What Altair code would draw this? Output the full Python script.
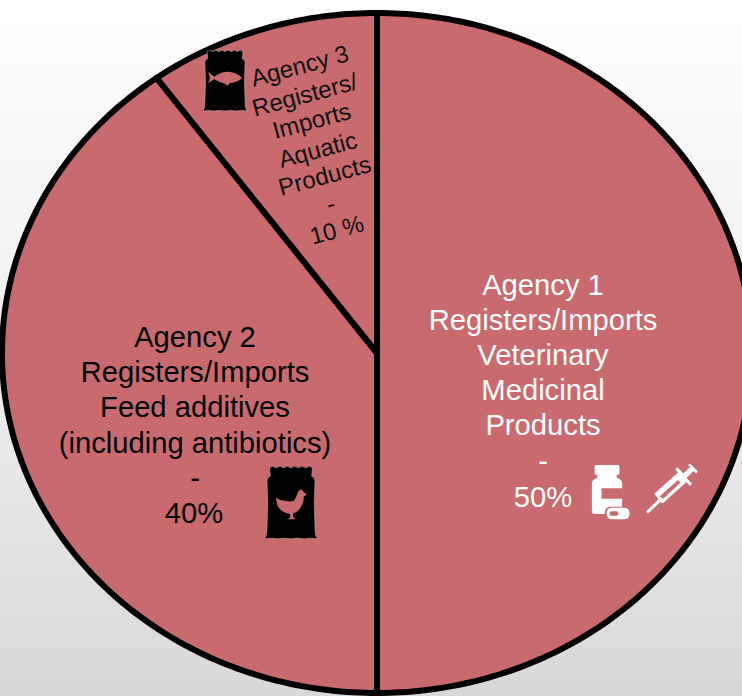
import altair as alt
import numpy as np
import pandas as pd

# Shares of registration by agency, clockwise from twelve o'clock
agencies = ["Agency 1", "Agency 2", "Agency 3"]
shares = [50, 40, 10]

label_lines = {
    "Agency 1": ["Agency 1", "Registers/Imports", "Veterinary", "Medicinal", "Products", "-", "50%"],
    "Agency 2": ["Agency 2", "Registers/Imports", "Feed additives", "(including antibiotics)", "-", "40%"],
    "Agency 3": ["Agency 3", "Registers/", "Imports", "Aquatic", "Products", "-", "10 %"],
}

# Layout and styling
W, H = 742, 696
CX, CY, RX, RY = 377, 353, 375, 340
PINK = "#c96a6f"
FONT = "Liberation Sans"

BAG = ("M-.58,-.95 Q-.5,-1.03 -.4,-.95 Q-.3,-1.03 -.2,-.95 Q-.1,-1.03 0,-.95 Q.1,-1.03 .2,-.95 "
       "Q.3,-1.03 .4,-.95 Q.5,-1.03 .58,-.95 L.56,-.72 Q.65,-.7 .65,-.6 L.63,0 L.65,.7 Q.65,.9 .72,.97 "
       "Q.54,.93 .36,.97 Q.18,.93 0,.97 Q-.18,.93 -.36,.97 Q-.54,.93 -.72,.97 Q-.65,.9 -.65,.7 L-.63,0 L-.65,-.6 "
       "Q-.65,-.7 -.56,-.72 Z")
HEN = ("M-.95,-.4 Q-.7,-.2 -.4,-.2 Q-.05,-.1 .2,-.2 Q.3,-.4 .38,-.6 Q.45,-.85 .62,-.9 Q.7,-.95 .75,-.8 "
       "L.98,-.6 L.8,-.45 Q.8,-.05 .55,.3 Q.35,.55 .12,.6 L.14,.82 L.3,.95 L-.2,.95 L-.05,.82 L-.05,.62 "
       "Q-.6,.55 -.85,.1 Z")
FISH = ("M-1,-.36 L-.62,-.08 Q-.2,-.42 .3,-.36 Q.75,-.3 1,0 Q.75,.25 .3,.3 L.15,.45 L0,.34 Q-.3,.3 -.62,.08 "
        "L-1,.3 L-.88,0 Z")
BOTTLE = ("M-.4,-.96 L.4,-.96 Q.46,-.96 .46,-.9 L.46,-.66 Q.46,-.6 .4,-.6 L.36,-.6 L.36,-.5 Q.56,-.42 .56,-.3 "
          "L.56,.75 Q.56,.85 .46,.85 L-.46,.85 Q-.56,.85 -.56,.75 L-.56,-.3 Q-.56,-.42 -.36,-.5 L-.36,-.6 "
          "L-.4,-.6 Q-.46,-.6 -.46,-.66 L-.46,-.9 Q-.46,-.96 -.4,-.96Z")
BAR = "M-1,-.5 L1,-.5 L1,.5 L-1,.5Z"
CAPSULE = "M-.5,-.5 L.5,-.5 Q1,-.5 1,0 Q1,.5 .5,.5 L-.5,.5 Q-1,.5 -1,0 Q-1,-.5 -.5,-.5Z"
SYRINGE = ("M-1,.82 L-.5,.32 L-.67,.11 L.28,-.74 L.17,-.86 L.26,-.95 L.5,-.7 L.78,-.98 L.68,-1.02 L.76,-1.1 "
           "L1.08,-.78 L1,-.7 L.9,-.8 L.62,-.52 L.84,-.3 L.75,-.2 L.62,-.36 L-.33,.49 L-.42,.44 L-.92,.9 Z")
SYRINGE_CORE = "M-.46,.22 L.28,-.44 L.38,-.34 L-.3,.3 Z"

# (path, x, y, size in pixels, fill, outline)
icons = [
    (BAG, 291, 503, 74, "#000000", "#cfa6a8"),
    (HEN, 291, 504, 32, PINK, None),
    (BAG, 225, 81, 62, "#000000", "#cfa6a8"),
    (FISH, 225, 78, 34, PINK, None),
    (BOTTLE, 607, 491, 54, "#ffffff", None),
    (BAR, 612, 493.5, 21, PINK, None),
    (CAPSULE, 618, 513.5, 27, PINK, None),
    (CAPSULE, 618, 513.5, 23, "#ffffff", None),
    (CAPSULE, 614, 513.5, 9, PINK, None),
    (SYRINGE, 671, 491, 50, "#ffffff", None),
    (SYRINGE_CORE, 671, 491, 50, PINK, None),
]

# Each slice is a closed outline on the unit circle; the unequal x and y ranges
# stretch it into the wide pie.
rows = []
start = 0.0
for name, share in zip(agencies, shares):
    end = start + share / 100 * 2 * np.pi
    angles = np.linspace(start, end, max(int(share * 4), 8))
    pts = [(0.0, 0.0)] + [(np.sin(a), np.cos(a)) for a in angles] + [(0.0, 0.0)]
    rows += [{"agency": name, "seq": i, "x": float(px), "y": float(py)} for i, (px, py) in enumerate(pts)]
    start = end
slices = pd.DataFrame(rows)

x_scale = alt.Scale(domain=[-CX / RX, (W - CX) / RX], range=[0, W], nice=False, zero=False)
y_scale = alt.Scale(domain=[(CY - H) / RY, CY / RY], range=[H, 0], nice=False, zero=False)

backdrop = alt.Chart(pd.DataFrame({"a": [0]})).mark_rect(
    fill=alt.Gradient(
        gradient="linear", x1=0, y1=0, x2=0, y2=1,
        stops=[
            alt.GradientStop(color="#ffffff", offset=0.03),
            alt.GradientStop(color="#e6e6e6", offset=0.7),
            alt.GradientStop(color="#d8d8d8", offset=1),
        ],
    )
).encode(x=alt.value(0), x2=alt.value(W), y=alt.value(0), y2=alt.value(H))

pie = alt.Chart(slices).mark_line(
    fill=PINK, stroke="#000000", strokeWidth=6, strokeJoin="round", clip=True
).encode(
    x=alt.X("x:Q", scale=x_scale, axis=None),
    y=alt.Y("y:Q", scale=y_scale, axis=None),
    detail="agency:N",
    order="seq:Q",
)

layers = [backdrop, pie]


def text_block(lines, centers, color, size, angle=0):
    for line, (px, py) in zip(lines, centers):
        layers.append(
            alt.Chart(pd.DataFrame({"a": [0]})).mark_text(
                text=line, font=FONT, fontSize=size, color=color,
                align="center", baseline="middle", angle=angle,
            ).encode(x=alt.value(px), y=alt.value(py))
        )


text_block(label_lines["Agency 1"],
           [(543, 286), (543, 321), (543, 356), (543, 391), (543, 426), (543, 462), (543, 498)],
           "#ffffff", 29.2)
text_block(label_lines["Agency 2"],
           [(195, 338), (195, 373), (195, 408), (195, 444), (195, 479), (194, 514)],
           "#000000", 29.2)
text_block(label_lines["Agency 3"],
           [(300, 67), (305, 96), (312, 122), (318, 151), (325, 177), (331, 205), (337, 231)],
           "#111111", 24, angle=345)

for path, px, py, span, fill, outline in icons:
    mark_args = dict(shape=path, size=span ** 2, filled=True, fill=fill, opacity=1)
    if outline:
        mark_args.update(stroke=outline, strokeWidth=0.6)
    else:
        mark_args.update(strokeWidth=0)
    layers.append(
        alt.Chart(pd.DataFrame({"a": [0]})).mark_point(**mark_args).encode(
            x=alt.value(px), y=alt.value(py)
        )
    )

chart = alt.layer(*layers).properties(
    width=W, height=H, padding=0, autosize=alt.AutoSizeParams(type="none")
).configure_view(stroke=None)

chart.save("out.html", embed_options={"renderer": "svg", "actions": False})
